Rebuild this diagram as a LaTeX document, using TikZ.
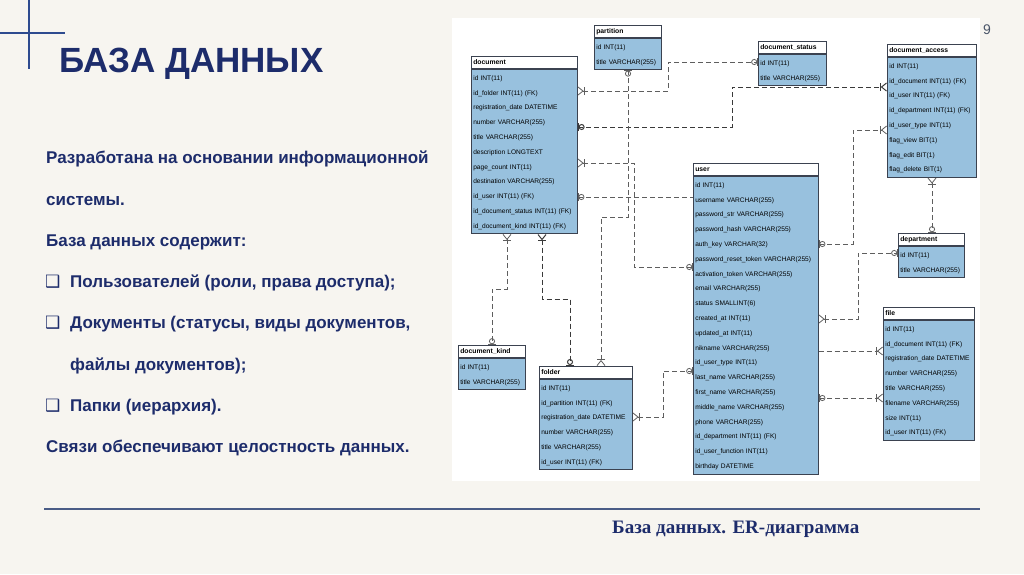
\documentclass[tikz,border=0pt]{standalone}
\usepackage{fontspec}
\setmainfont{Liberation Sans}
\newfontfamily\capfont{Liberation Serif}
\newfontfamily\symfont{DejaVu Sans}
\usetikzlibrary{positioning, arrows.meta, calc}
\definecolor{slidebg}{HTML}{F7F5F0}
\definecolor{navy}{HTML}{1D2C6B}
\definecolor{crossblue}{HTML}{2E4B8F}
\definecolor{rulegray}{HTML}{4A5C86}
\definecolor{pagegray}{HTML}{4A5568}
\definecolor{entblue}{HTML}{98C1DE}
\definecolor{entline}{HTML}{3B4250}
\definecolor{relgray}{HTML}{5E5E5E}
\definecolor{reldark}{HTML}{3A3A3A}

\begin{document}
\begin{tikzpicture}[x=1pt, y=-1pt,
    enthead/.style={draw=entline, line width=0.6pt, fill=white, text=black,
      font=\bfseries\fontsize{6.8}{8}\selectfont, align=left, text width=#1,
      inner xsep=2pt, inner ysep=0pt, minimum height=12pt, anchor=north west},
    entbody/.style={draw=entline, line width=0.6pt, fill=entblue, text=black,
      font=\fontsize{6.6}{14.8}\selectfont, align=left, text width=#1,
      inner xsep=2pt, inner ysep=1pt,
      execute at begin node=\strut, execute at end node=\strut},
    rel/.style={draw=relgray, line width=0.8pt, dash pattern=on 5pt off 3pt},
    strongrel/.style={rel, draw=reldark, line width=1pt},
    crowring/.style={arrows={{Straight Barb[reversed,length=5pt,width=8pt] Bar[width=8pt]}-{Circle[open,length=6pt,width=6pt] Bar[width=8pt]}}},
    ringcrow/.style={arrows={{Bar[width=8pt] Circle[open,length=6pt,width=6pt]}-{Bar[width=8pt] Straight Barb[reversed,length=5pt,width=8pt]}}},
    ringonly/.style={arrows={{Bar[width=8pt] Circle[open,length=6pt,width=6pt]}-}},
    crowonly/.style={arrows={-{Bar[width=8pt] Straight Barb[reversed,length=5pt,width=8pt]}}},
    bodytext/.style={anchor=base west, inner sep=0pt, text=navy,
      font=\bfseries\fontsize{17}{20}\selectfont},
    bullet/.style={anchor=base west, inner sep=0pt, text=navy,
      font=\symfont\fontsize{17}{20}\selectfont}]
  \useasboundingbox (0,0) rectangle (1024,574);
  \fill[slidebg] (0,0) rectangle (1024,574);
  \fill[white] (452,18) rectangle (980,481);

  % corner cross and rule
  \draw[crossblue, line width=1.5pt] (29,0) -- (29,69);
  \draw[crossblue, line width=1.5pt] (0,33) -- (65,33);
  \draw[rulegray, line width=2pt] (44,509) -- (980,509);

  \node[anchor=base west, inner sep=0pt, text=navy,
    font=\bfseries\fontsize{35}{40}\selectfont] (title) at (59,72) {БАЗА ДАННЫХ};
  \node[text=pagegray, font=\fontsize{14}{16}\selectfont] (pagenum) at (987,30) {9};

  \foreach \x/\y/\txt [count=\i] in {
      46/163.5/{Разработана на основании информационной},
      46/205/{системы.},
      46/246.5/{База данных содержит:},
      70/287.5/{Пользователей (роли, права доступа);},
      70/328.5/{Документы (статусы, виды документов,},
      70/370/{файлы документов);},
      70/411/{Папки (иерархия).},
      46/452/{Связи обеспечивают целостность данных.}}
    \node[bodytext] (line\i) at (\x,\y) {\txt};
  \foreach \y [count=\i] in {287.5, 328.5, 411}
    \node[bullet] (box\i) at (45,\y) {❑};

  \node[anchor=base west, inner sep=0pt, text=navy,
    font=\capfont\bfseries\fontsize{19}{22}\selectfont] (caption) at (612,533) {База данных. ER-диаграмма};

  % entities
  \node[enthead=63pt] (parth) at (594,25) {partition};
  \node[entbody=63pt, below=0pt of parth] (part) {id INT(11)\\title VARCHAR(255)};

  \node[enthead=102pt] (doch) at (471,56) {document};
  \node[entbody=102pt, below=0pt of doch] (doc) {id INT(11)\\id\_folder INT(11) (FK)\\registration\_date DATETIME\\number VARCHAR(255)\\title VARCHAR(255)\\description LONGTEXT\\page\_count INT(11)\\destination VARCHAR(255)\\id\_user INT(11) (FK)\\id\_document\_status INT(11) (FK)\\id\_document\_kind INT(11) (FK)};

  \node[enthead=64pt] (stath) at (758,41) {document\_status};
  \node[entbody=64pt, below=0pt of stath] (stat) {id INT(11)\\title VARCHAR(255)};

  \node[enthead=85pt] (acch) at (887,44) {document\_access};
  \node[entbody=85pt, below=0pt of acch] (acc) {id INT(11)\\id\_document INT(11) (FK)\\id\_user INT(11) (FK)\\id\_department INT(11) (FK)\\id\_user\_type INT(11)\\flag\_view BIT(1)\\flag\_edit BIT(1)\\flag\_delete BIT(1)};

  \node[enthead=121pt] (userh) at (693,163) {user};
  \node[entbody=121pt, below=0pt of userh] (user) {id INT(11)\\username VARCHAR(255)\\password\_str VARCHAR(255)\\password\_hash VARCHAR(255)\\auth\_key VARCHAR(32)\\password\_reset\_token VARCHAR(255)\\activation\_token VARCHAR(255)\\email VARCHAR(255)\\status SMALLINT(6)\\created\_at INT(11)\\updated\_at INT(11)\\nikname VARCHAR(255)\\id\_user\_type INT(11)\\last\_name VARCHAR(255)\\first\_name VARCHAR(255)\\middle\_name VARCHAR(255)\\phone VARCHAR(255)\\id\_department INT(11) (FK)\\id\_user\_function INT(11)\\birthday DATETIME};

  \node[enthead=62pt] (deph) at (898,233) {department};
  \node[entbody=62pt, below=0pt of deph] (dep) {id INT(11)\\title VARCHAR(255)};

  \node[enthead=87pt] (fileh) at (883,307) {file};
  \node[entbody=87pt, below=0pt of fileh] (file) {id INT(11)\\id\_document INT(11) (FK)\\registration\_date DATETIME\\number VARCHAR(255)\\title VARCHAR(255)\\filename VARCHAR(255)\\size INT(11)\\id\_user INT(11) (FK)};

  \node[enthead=63pt] (kindh) at (458,345) {document\_kind};
  \node[entbody=63pt, below=0pt of kindh] (kind) {id INT(11)\\title VARCHAR(255)};

  \node[enthead=89pt] (folderh) at (539,366) {folder};
  \node[entbody=89pt, below=0pt of folderh] (folder) {id INT(11)\\id\_partition INT(11) (FK)\\registration\_date DATETIME\\number VARCHAR(255)\\title VARCHAR(255)\\id\_user INT(11) (FK)};

  % relations
  \draw[rel, crowring] (doc.east |- 0,91) -| (668,62) -- (stat.west |- 0,62);
  \draw[strongrel, ringcrow] (doc.east |- 0,127) -| (732,87) -- (acc.west |- 0,87);
  \draw[rel, crowring] (doc.east |- 0,163) -| (634,267) -- (user.west |- 0,267);
  \draw[rel, ringonly] (doc.east |- 0,197) -- (user.west |- 0,197);
  \draw[rel, ringcrow] (part.south -| 628,0) |- (601,217) -- (folderh.north -| 601,0);
  \draw[rel, crowring] (doc.south -| 507,0) |- (492,289) -- (kindh.north -| 492,0);
  \draw[strongrel, crowring] (doc.south -| 542,0) |- (570,299) -- (folderh.north -| 570,0);
  \draw[rel, crowring] (folder.east |- 0,417) -| (663,371) -- (user.west |- 0,371);
  \draw[rel, ringcrow] (user.east |- 0,244) -| (853,130) -- (acc.west |- 0,130);
  \draw[rel, crowring] (acc.south -| 932,0) -- (deph.north -| 932,0);
  \draw[rel, crowring] (user.east |- 0,319) -| (858,253) -- (dep.west |- 0,253);
  \draw[rel, crowonly] (user.east |- 0,351) -- (file.west |- 0,351);
  \draw[rel, ringcrow] (user.east |- 0,398) -- (file.west |- 0,398);
\end{tikzpicture}
\end{document}
